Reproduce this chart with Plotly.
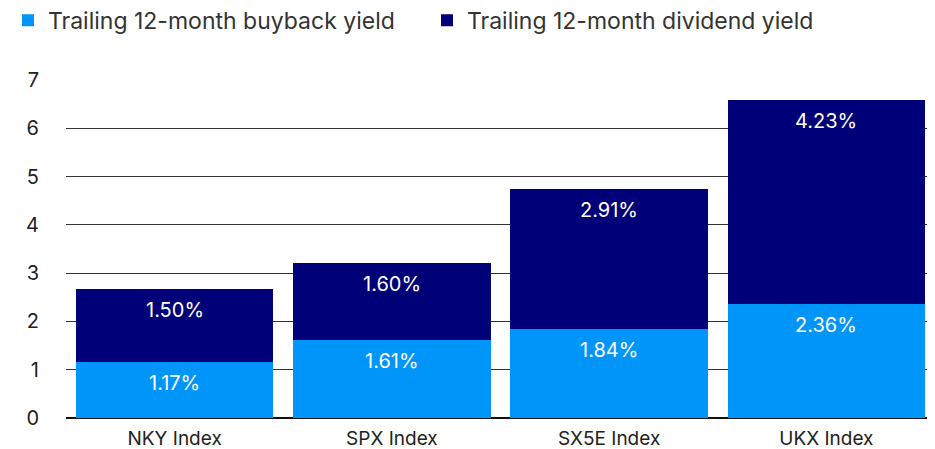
import plotly.graph_objects as go

categories = ["NKY Index", "SPX Index", "SX5E Index", "UKX Index"]
buyback = [1.17, 1.61, 1.84, 2.36]
dividend = [1.50, 1.60, 2.91, 4.23]
series_names = ["Trailing 12-month buyback yield", "Trailing 12-month dividend yield"]
colors = ["#0095f8", "#000078"]

fig = go.Figure()
for name, vals, col in zip(series_names, [buyback, dividend], colors):
    fig.add_trace(go.Bar(
        x=categories, y=vals, name=name, marker=dict(color=col, line=dict(width=0)),
    ))

# value labels placed a fixed distance below the top of each segment
tops_buy = buyback
tops_div = [b + d for b, d in zip(buyback, dividend)]
for vals, tops in [(buyback, tops_buy), (dividend, tops_div)]:
    for c, v, t in zip(categories, vals, tops):
        fig.add_annotation(x=c, y=t, text=f"{v:.2f}%", showarrow=False,
                           yanchor="middle", yshift=-21,
                           font=dict(color="white", size=20, family="Inter"))

fig.update_layout(
    barmode="stack", bargap=0.09,
    width=927, height=441,
    margin=dict(l=58, r=0, t=72, b=31, autoexpand=False),
    plot_bgcolor="white", paper_bgcolor="white",
    font=dict(family="Inter", color="#222222", size=20),
    legend=dict(orientation="h", x=0, y=0.972, xref="container", yref="container",
                xanchor="left", yanchor="middle",
                font=dict(size=23, color="#333333"), traceorder="normal",
                itemwidth=30, entrywidth=374, entrywidthmode="pixels"),
    showlegend=True,
)
fig.update_yaxes(range=[0, 7], dtick=1, showgrid=True, gridcolor="#333333", gridwidth=1,
                 zeroline=True, zerolinecolor="#111111", zerolinewidth=2,
                 ticks="", tickfont=dict(size=20), ticklabelstandoff=26, automargin=False)
fig.update_xaxes(showline=False, tickfont=dict(size=19), ticks="", automargin=False,
                 ticklabelstandoff=7)
fig.write_html("out.html")
